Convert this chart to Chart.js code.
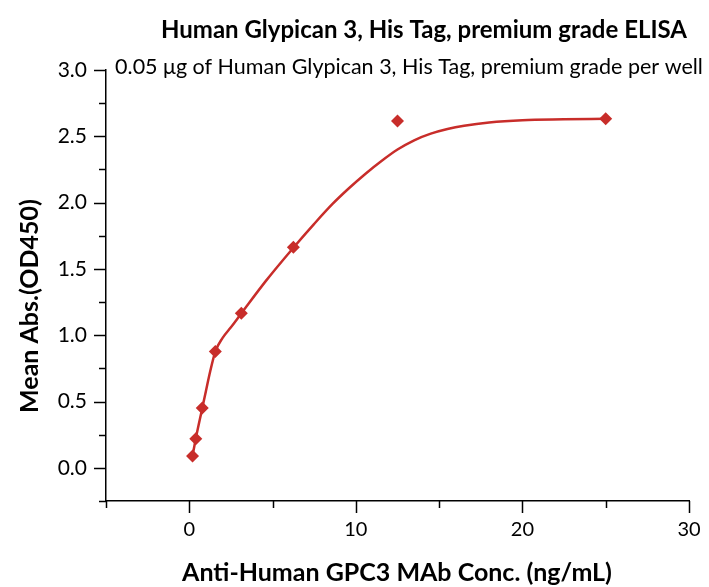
<!DOCTYPE html>
<html>
<head>
<meta charset="utf-8">
<script src="https://cdn.jsdelivr.net/npm/chart.js@4/dist/chart.umd.min.js"></script>
<style>
  html, body { margin: 0; padding: 0; background: #fff; }
  #wrap { width: 709px; height: 587px; position: relative; }
</style>
</head>
<body>
<div id="wrap"><canvas id="c" width="709" height="587"></canvas></div>
<script>
// ---- data ----
const concentrations = [0.195, 0.39, 0.78, 1.5625, 3.125, 6.25, 12.5, 25];
const meanAbs = [0.09, 0.22, 0.452, 0.877, 1.165, 1.664, 2.615, 2.632];
// fitted curve
const curveX = [0.195, 0.39, 0.78, 1.0, 1.25, 1.5625, 2.0, 2.5, 3.125, 4.6, 6.25, 7.5, 8.6, 9.6, 10.6, 11.5, 12.5, 13.5, 14.5, 15.5, 16.5, 18, 20, 22.5, 25];
const curveY = [0.09, 0.22, 0.45, 0.58, 0.725, 0.877, 0.98, 1.06, 1.165, 1.41, 1.66, 1.84, 1.99, 2.11, 2.22, 2.31, 2.40, 2.47, 2.52, 2.555, 2.58, 2.605, 2.622, 2.628, 2.632];
const xTickLabels = [0, 10, 20, 30];
const yTickLabels = [0.0, 0.5, 1.0, 1.5, 2.0, 2.5, 3.0];

const titleText = 'Human Glypican 3, His Tag, premium grade ELISA';
const subtitleText = '0.05 \u03bcg of Human Glypican 3, His Tag, premium grade per well';
const xTitle = 'Anti-Human GPC3 MAb Conc. (ng/mL)';
const yTitle = 'Mean Abs.(OD450)';

const RED = 'rgb(200,45,42)';
const FONT = 'Lato, "Open Sans", sans-serif';

const tickPlugin = {
  id: 'customTicks',
  afterDraw(chart) {
    const ctx = chart.ctx;
    const xs = chart.scales.x, ys = chart.scales.y;
    const ca = chart.chartArea;
    ctx.save();
    ctx.strokeStyle = '#000';
    ctx.lineWidth = 1.5;
    ys.ticks.forEach(t => {
      const y = Math.round(ys.getPixelForValue(t.value)) + 0.5;
      const major = yTickLabels.some(v => Math.abs(v - t.value) < 1e-6);
      const len = major ? 12 : 7;
      ctx.beginPath();
      ctx.moveTo(ca.left - len, y);
      ctx.lineTo(ca.left, y);
      ctx.stroke();
    });
    xs.ticks.forEach(t => {
      const x = Math.round(xs.getPixelForValue(t.value)) + 0.5;
      const major = xTickLabels.some(v => Math.abs(v - t.value) < 1e-6);
      const len = major ? 12 : 7;
      ctx.beginPath();
      ctx.moveTo(x, ca.bottom);
      ctx.lineTo(x, ca.bottom + len);
      ctx.stroke();
    });
    // titles
    ctx.fillStyle = '#000';
    ctx.textAlign = 'center';
    ctx.textBaseline = 'middle';
    ctx.font = 'bold 24px ' + FONT;
    ctx.fillText(titleText, 424, 30);
    ctx.font = '21.5px ' + FONT;
    ctx.fillText(subtitleText, 409, 67);
    ctx.font = 'bold 25px ' + FONT;
    ctx.fillText(xTitle, 397, 573);
    ctx.save();
    ctx.translate(30, 306);
    ctx.rotate(-Math.PI / 2);
    ctx.fillText(yTitle, 0, 0);
    ctx.restore();
    ctx.restore();
  }
};

new Chart(document.getElementById('c'), {
  type: 'scatter',
  data: {
    datasets: [
      {
        label: 'data',
        data: concentrations.map((x, i) => ({ x, y: meanAbs[i] })),
        pointStyle: 'rectRot',
        pointRadius: 6.5,
        backgroundColor: RED,
        borderColor: RED,
        borderWidth: 0,
        showLine: false,
        order: 0
      },
      {
        label: 'fit',
        data: curveX.map((x, i) => ({ x, y: curveY[i] })),
        showLine: true,
        cubicInterpolationMode: 'monotone',
        borderColor: RED,
        borderWidth: 2.5,
        pointRadius: 0,
        fill: false,
        order: 1
      }
    ]
  },
  options: {
    responsive: false,
    animation: false,
    devicePixelRatio: 1,
    layout: { padding: { left: 0, top: 70, right: 20, bottom: 0 } },
    plugins: { legend: { display: false }, tooltip: { enabled: false }, title: { display: false } },
    scales: {
      x: {
        type: 'linear',
        min: -5, max: 30,
        afterFit(s) { s.height = 86; s.paddingLeft = 0; s.paddingRight = 0; },
        border: { display: true, color: '#000', width: 1.5 },
        grid: { display: true, drawOnChartArea: false, drawTicks: false, color: 'rgba(0,0,0,0)' },
        ticks: {
          stepSize: 5,
          padding: 17,
          color: '#000',
          font: { family: FONT, size: 20 },
          maxRotation: 0,
          autoSkip: false,
          callback: v => xTickLabels.includes(v) ? String(v) : ''
        }
      },
      y: {
        type: 'linear',
        min: -0.25, max: 3.0,
        afterFit(s) { s.width = 106; s.paddingTop = 0; s.paddingBottom = 0; },
        border: { display: true, color: '#000', width: 1.5 },
        grid: { display: true, drawOnChartArea: false, drawTicks: false, color: 'rgba(0,0,0,0)' },
        ticks: {
          stepSize: 0.25,
          padding: 19,
          color: '#000',
          font: { family: FONT, size: 21 },
          autoSkip: false,
          callback: v => yTickLabels.some(t => Math.abs(t - v) < 1e-6) ? v.toFixed(1) : ''
        }
      }
    }
  },
  plugins: [tickPlugin]
});
</script>
</body>
</html>
